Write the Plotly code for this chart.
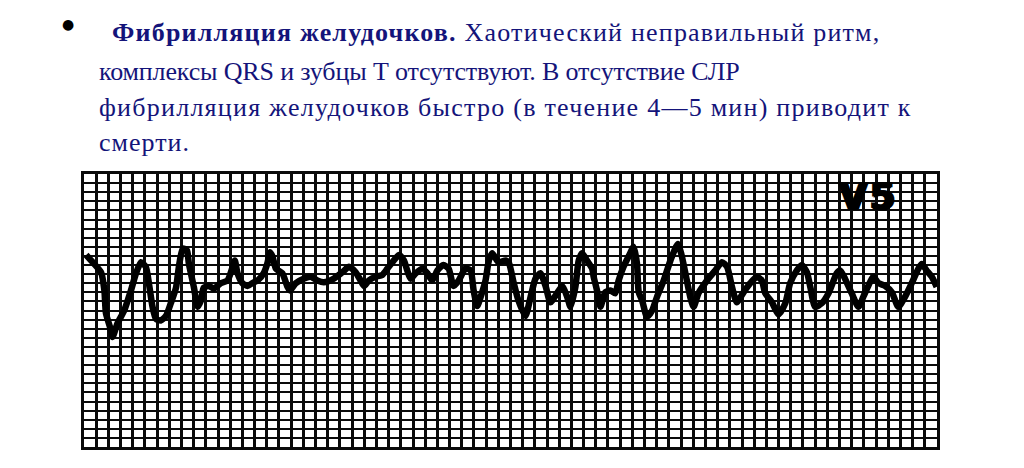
import plotly.graph_objects as go

# ECG trace (lead V5), time in seconds, amplitude in mV
time_s = [0.007, 0.034, 0.056, 0.067, 0.072, 0.089, 0.094, 0.110, 0.132, 0.154,
          0.171, 0.187, 0.203, 0.213, 0.225, 0.236, 0.252, 0.269, 0.285, 0.302,
          0.311, 0.324, 0.338, 0.344, 0.361, 0.373, 0.384, 0.393, 0.410, 0.426,
          0.449, 0.471, 0.488, 0.495, 0.504, 0.520, 0.537, 0.557, 0.570, 0.590,
          0.602, 0.611, 0.619, 0.630, 0.651, 0.668, 0.676, 0.695, 0.721, 0.744,
          0.766, 0.787, 0.820, 0.848, 0.870, 0.892, 0.908, 0.919, 0.935, 0.957,
          0.979, 0.996, 1.017, 1.034, 1.050, 1.061, 1.072, 1.089, 1.111, 1.127,
          1.143, 1.160, 1.180, 1.197, 1.213, 1.230, 1.252, 1.269, 1.279, 1.291,
          1.302, 1.318, 1.329, 1.340, 1.361, 1.384, 1.395, 1.410, 1.426, 1.449,
          1.466, 1.482, 1.498, 1.515, 1.531, 1.553, 1.570, 1.586, 1.597, 1.613,
          1.624, 1.635, 1.651, 1.668, 1.673, 1.684, 1.695, 1.711, 1.728, 1.744,
          1.755, 1.771, 1.793, 1.804, 1.815, 1.821, 1.832, 1.848, 1.865, 1.881,
          1.903, 1.925, 1.949, 1.960, 1.974, 1.990, 2.001, 2.017, 2.045, 2.072,
          2.094, 2.111, 2.127, 2.143, 2.165, 2.187, 2.209, 2.225, 2.236, 2.258,
          2.280, 2.302, 2.318, 2.340, 2.356, 2.373, 2.384, 2.400, 2.422, 2.444,
          2.471, 2.482, 2.498, 2.520, 2.542, 2.558, 2.580, 2.591, 2.608, 2.630,
          2.652, 2.673, 2.695, 2.717, 2.739, 2.750, 2.766, 2.783, 2.799]
volt_mv = [0.28, 0.18, 0.09, -0.11, -0.36, -0.55, -0.62, -0.47, -0.33, -0.11,
           0.08, 0.20, 0.15, -0.03, -0.29, -0.42, -0.44, -0.39, -0.25, -0.08,
           0.14, 0.35, 0.33, 0.19, -0.08, -0.29, -0.22, -0.08, -0.06, -0.09,
           -0.03, 0.00, 0.15, 0.22, 0.08, -0.03, -0.06, -0.02, 0.00, 0.08,
           0.19, 0.31, 0.26, 0.13, 0.08, -0.07, -0.11, -0.03, 0.02, 0.04,
           0.00, -0.02, 0.02, 0.09, 0.15, 0.09, 0.00, -0.06, 0.00, 0.04,
           0.06, 0.13, 0.22, 0.28, 0.22, 0.11, 0.02, 0.08, 0.13, 0.08,
           0.00, 0.11, 0.17, 0.13, -0.06, 0.00, 0.13, 0.11, -0.11, -0.28,
           -0.18, 0.00, 0.22, 0.30, 0.20, 0.22, 0.19, -0.02, -0.22, -0.39,
           -0.18, 0.02, 0.08, -0.06, -0.24, -0.14, -0.06, -0.18, -0.29, -0.07,
           0.22, 0.30, 0.22, 0.13, 0.04, -0.11, -0.29, -0.13, -0.11, -0.14,
           0.00, 0.15, 0.30, 0.37, 0.19, -0.13, -0.22, -0.40, -0.33, -0.18,
           0.00, 0.22, 0.40, 0.30, 0.08, -0.18, -0.29, -0.14, 0.00, 0.11,
           0.20, 0.15, -0.07, -0.24, -0.13, -0.03, 0.04, 0.00, -0.14, -0.24,
           -0.37, -0.25, -0.03, 0.11, 0.17, 0.09, -0.07, -0.29, -0.25, -0.14,
           0.08, 0.11, 0.02, -0.14, -0.29, -0.18, -0.02, 0.04, -0.03, -0.06,
           -0.13, -0.29, -0.18, -0.03, 0.13, 0.18, 0.11, 0.04, -0.07]

lead_label = "V5"
text_lines = [
    "<b>Фибрилляция желудочков.</b> Хаотический неправильный ритм,",
    "комплексы QRS и зубцы Т отсутствуют. В отсутствие СЛР",
    "фибрилляция желудочков быстро (в течение 4—5 мин) приводит к",
    "смерти.",
]

# browser adds an 8px body margin
OFF = 8
W, H = 1024 - 2 * OFF, 468 - 2 * OFF
L, R, T, B = 84 - OFF, 937 - OFF, 174 - OFF, 447 - OFF


def px(x, y):
    x, y = x - OFF, y - OFF
    return (x - L) / (R - L), (B - y) / (B - T)


fig = go.Figure()
fig.add_trace(go.Scatter(x=time_s, y=volt_mv, mode="lines",
                         line=dict(color="#000000", width=6.5, shape="spline",
                                   smoothing=0.6),
                         hoverinfo="skip", showlegend=False))

grid_col = "#0a0a0a"
fig.update_xaxes(range=[0, 2.8], tick0=0, dtick=0.04, showgrid=True,
                 gridcolor=grid_col, gridwidth=2.5, showticklabels=False,
                 ticks="", zeroline=False, showline=True, linecolor=grid_col,
                 linewidth=3, mirror=True)
fig.update_yaxes(range=[-1.83, 1.17], tick0=-1.83, dtick=0.1,
                 showgrid=True, gridcolor=grid_col, gridwidth=2.2,
                 showticklabels=False, ticks="", zeroline=False,
                 showline=True, linecolor=grid_col, linewidth=3, mirror=True)

annots = []
bx, by = px(68, 24)
annots.append(dict(text="●", x=bx, y=by, xref="paper", yref="paper",
                   xanchor="center", yanchor="middle", showarrow=False,
                   font=dict(family="DejaVu Sans", size=14, color="#000000")))
line_pos = [(110, 32), (97, 71), (97, 108), (97, 142)]
line_spacing = [1.2, -0.15, 1.25, 1.0]
for txt, (lx, ly), sp in zip(text_lines, line_pos, line_spacing):
    ax_, ay_ = px(lx, ly)
    annots.append(dict(text=f'<span style="letter-spacing:{sp}px">{txt}</span>',
                       x=ax_, y=ay_, xref="paper", yref="paper",
                       xanchor="left", yanchor="middle", showarrow=False,
                       font=dict(family="Liberation Serif", size=26,
                                 color="#14147a")))
vx, vy = px(868, 196.5)
annots.append(dict(text=f'<b><span style="letter-spacing:2px">{lead_label}</span></b>',
                   x=vx, y=vy,
                   xref="paper", yref="paper", xanchor="center",
                   yanchor="middle", showarrow=False,
                   font=dict(family="DejaVu Sans", size=37, color="#000000",
                             shadow="1.5px 0px 0px #000, -1.5px 0px 0px #000, 0px 0.8px 0px #000")))

fig.update_layout(width=W, height=H, autosize=False,
                  margin=dict(l=L, r=W - R, t=T, b=H - B, pad=0),
                  paper_bgcolor="#ffffff", plot_bgcolor="#ffffff",
                  annotations=annots, showlegend=False)

fig.write_html("out.html", config={"displayModeBar": False})
